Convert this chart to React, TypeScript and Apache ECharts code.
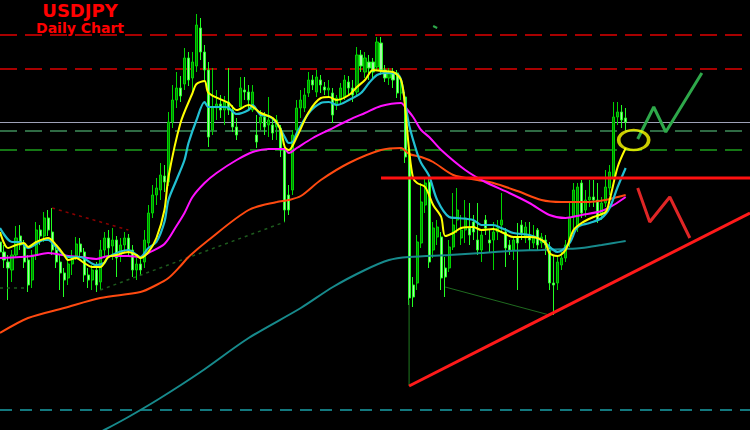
import React, { useEffect, useRef } from 'react';
import * as echarts from 'echarts';

// Daily bars (index = trading day) plus blank future slots for the projection
const categories: string[] = Array.from({ length: 188 }, (_, i) => `D${i + 1}`);

// [open, close, low, high]
const candles: number[][] = [
  [106.58, 106.48, 106.38, 106.68], [106.48, 106.40, 106.32, 106.55], [106.38, 106.32, 106.00, 106.45], [106.30, 106.45, 106.18, 106.50],
  [106.45, 106.62, 106.42, 106.74], [106.64, 106.55, 106.50, 106.75], [106.55, 106.38, 106.32, 106.60], [106.40, 106.15, 106.08, 106.45],
  [106.20, 106.45, 106.12, 106.50], [106.45, 106.70, 106.40, 106.78], [106.70, 106.64, 106.55, 106.75], [106.64, 106.82, 106.58, 106.88],
  [106.82, 106.70, 106.64, 106.90], [106.68, 106.50, 106.45, 106.92], [106.50, 106.38, 106.32, 106.55], [106.38, 106.27, 106.10, 106.45],
  [106.27, 106.20, 106.03, 106.32], [106.22, 106.36, 106.15, 106.42], [106.36, 106.42, 106.25, 106.50], [106.44, 106.56, 106.40, 106.63],
  [106.56, 106.48, 106.42, 106.62], [106.48, 106.25, 106.18, 106.52], [106.25, 106.20, 106.12, 106.32], [106.20, 106.30, 106.10, 106.35],
  [106.30, 106.15, 106.08, 106.38], [106.18, 106.50, 106.10, 106.60], [106.50, 106.62, 106.42, 106.68], [106.62, 106.52, 106.45, 106.70],
  [106.54, 106.60, 106.40, 106.72], [106.60, 106.42, 106.23, 106.64], [106.44, 106.55, 106.38, 106.62], [106.55, 106.62, 106.48, 106.68],
  [106.62, 106.50, 106.44, 106.66], [106.50, 106.30, 106.23, 106.55], [106.30, 106.36, 106.20, 106.42], [106.36, 106.30, 106.25, 106.42],
  [106.38, 106.60, 106.32, 106.70], [106.57, 106.87, 106.52, 106.95], [106.87, 107.05, 106.82, 107.15], [107.05, 107.12, 106.95, 107.22],
  [107.10, 107.25, 107.00, 107.37], [107.24, 107.18, 107.08, 107.35], [107.18, 107.78, 107.14, 107.88], [107.78, 108.00, 107.72, 108.15],
  [108.00, 108.12, 107.92, 108.28], [108.12, 108.04, 107.98, 108.24], [108.16, 108.42, 108.10, 108.52], [108.42, 108.20, 108.14, 108.48],
  [108.22, 108.38, 108.08, 108.48], [108.34, 108.75, 108.28, 108.86], [108.72, 108.48, 108.40, 108.82], [108.48, 108.30, 108.20, 108.55],
  [108.30, 107.63, 107.53, 108.38], [107.70, 107.92, 107.65, 108.32], [107.92, 107.96, 107.80, 108.10], [107.96, 107.90, 107.82, 108.05],
  [107.90, 107.98, 107.75, 108.04], [107.98, 107.90, 107.85, 108.32], [107.90, 107.73, 107.68, 107.95], [107.73, 107.65, 107.60, 107.82],
  [107.93, 108.12, 107.90, 108.23], [108.10, 108.08, 108.00, 108.23], [108.08, 108.00, 107.90, 108.15], [107.90, 108.08, 107.88, 108.15],
  [107.65, 107.58, 107.52, 107.85], [107.77, 107.83, 107.70, 107.90], [107.83, 107.73, 107.65, 107.88], [107.75, 107.80, 107.63, 108.03],
  [107.75, 107.67, 107.60, 107.82], [107.73, 107.80, 107.60, 107.85], [107.72, 107.50, 107.43, 107.75], [107.50, 106.90, 106.78, 107.55],
  [107.05, 106.90, 106.85, 107.15], [107.10, 107.65, 107.05, 107.70], [107.70, 107.92, 107.65, 108.00], [107.92, 108.00, 107.82, 108.10],
  [107.92, 108.05, 107.88, 108.12], [108.07, 108.20, 108.03, 108.28], [108.20, 108.15, 108.10, 108.25], [108.08, 108.23, 108.03, 108.30],
  [108.20, 108.15, 108.07, 108.25], [108.13, 108.10, 108.05, 108.18], [108.10, 108.12, 108.02, 108.20], [108.07, 107.85, 107.77, 108.12],
  [107.95, 108.02, 107.90, 108.05], [108.00, 108.12, 107.95, 108.17], [108.03, 108.20, 108.00, 108.25], [108.18, 108.12, 108.05, 108.24],
  [108.12, 108.05, 107.98, 108.20], [108.08, 108.45, 108.03, 108.53], [108.45, 108.34, 108.28, 108.50], [108.28, 108.42, 108.22, 108.48],
  [108.38, 108.32, 108.20, 108.45], [108.38, 108.28, 108.22, 108.42], [108.33, 108.58, 108.30, 108.63], [108.57, 108.30, 108.25, 108.63],
  [108.30, 108.22, 108.18, 108.35], [108.22, 108.27, 108.15, 108.32], [108.27, 108.20, 108.12, 108.32], [108.27, 108.07, 108.02, 108.30],
  [108.07, 108.15, 108.00, 108.20], [108.03, 107.43, 107.37, 108.08], [107.43, 106.02, 105.95, 107.50], [106.15, 106.03, 105.93, 106.23],
  [106.17, 106.58, 106.10, 106.65], [106.57, 106.98, 106.52, 107.17], [106.95, 107.17, 106.87, 107.22], [107.18, 106.38, 106.32, 107.22],
  [106.50, 106.72, 106.42, 106.78], [106.63, 106.73, 106.55, 106.80], [106.63, 106.22, 106.10, 106.68], [106.32, 106.23, 106.03, 106.43],
  [106.32, 106.53, 106.28, 106.60], [106.53, 106.75, 106.50, 107.07], [106.80, 106.90, 106.67, 107.12], [106.62, 106.70, 106.55, 106.85],
  [106.70, 106.82, 106.57, 107.00], [106.72, 106.65, 106.55, 106.97], [106.78, 106.68, 106.60, 106.85], [106.60, 106.50, 106.45, 106.97],
  [106.50, 106.65, 106.38, 106.70], [106.80, 106.72, 106.65, 106.85], [106.60, 106.57, 106.47, 106.70], [106.60, 106.68, 106.30, 106.78],
  [106.68, 106.72, 106.60, 106.80], [106.75, 106.80, 106.68, 107.07], [106.68, 106.52, 106.33, 106.72], [106.55, 106.50, 106.45, 106.60],
  [106.50, 106.60, 106.40, 106.62], [106.63, 106.57, 106.10, 106.77], [106.75, 106.67, 106.60, 106.80], [106.62, 106.73, 106.57, 106.78],
  [106.65, 106.60, 106.50, 106.78], [106.57, 106.62, 106.52, 106.75], [106.70, 106.55, 106.50, 106.72], [106.57, 106.63, 106.52, 106.67],
  [106.60, 106.55, 106.45, 106.65], [106.53, 106.17, 106.10, 106.58], [106.17, 106.15, 105.85, 106.45], [106.17, 106.38, 106.10, 106.45],
  [106.35, 106.42, 106.30, 106.48], [106.42, 106.55, 106.38, 106.60], [106.58, 106.83, 106.53, 106.97], [106.83, 107.10, 106.63, 107.17],
  [106.72, 107.13, 106.68, 107.17], [107.17, 106.87, 106.82, 107.20], [106.90, 107.00, 106.83, 107.10], [107.00, 107.03, 106.93, 107.20],
  [107.03, 107.00, 106.93, 107.20], [107.00, 106.80, 106.77, 107.17], [106.85, 106.97, 106.80, 107.03], [106.97, 107.13, 106.93, 107.30],
  [107.12, 107.28, 107.05, 107.35], [107.23, 107.83, 107.20, 107.98], [107.83, 107.88, 107.75, 107.98], [107.88, 107.80, 107.72, 107.95],
  [107.82, 107.78, 107.70, 107.92],
];

// Moving averages, [bar index, value]
const maFast: number[][] = [
  [0, 106.68], [2, 106.52], [4, 106.55], [6, 106.57], [7, 106.53], [9, 106.58], [12, 106.62], [14, 106.55], [16, 106.45], [17, 106.40],
  [19, 106.42], [21, 106.37], [23, 106.33], [25, 106.33], [27, 106.43], [29, 106.45], [32, 106.48], [34, 106.45], [35, 106.42], [37, 106.48],
  [39, 106.62], [41, 106.90], [42, 107.23], [45, 107.77], [48, 108.07], [49, 108.16], [51, 108.19], [52, 108.07], [57, 107.97], [59, 107.90],
  [62, 107.95], [65, 107.87], [68, 107.82], [70, 107.70], [71, 107.53], [72, 107.50], [74, 107.63], [77, 107.88], [80, 108.02], [82, 108.03],
  [84, 108.00], [87, 108.05], [89, 108.13], [91, 108.20], [93, 108.30], [95, 108.29], [98, 108.28], [100, 108.20], [101, 107.93], [102, 107.50],
  [103, 107.22], [104, 107.17], [106, 107.13], [108, 106.95], [110, 106.83], [111, 106.64], [113, 106.67], [115, 106.72], [118, 106.73], [120, 106.70],
  [123, 106.71], [125, 106.68], [128, 106.63], [132, 106.63], [134, 106.62], [136, 106.57], [137, 106.47], [139, 106.44], [141, 106.50], [143, 106.70],
  [145, 106.77], [148, 106.83], [151, 106.88], [152, 107.00], [154, 107.33], [156, 107.52],
];
const maMid: number[][] = [
  [0, 106.72], [3, 106.58], [5, 106.58], [7, 106.52], [11, 106.60], [12, 106.60], [14, 106.53], [17, 106.43], [20, 106.43], [24, 106.35],
  [26, 106.37], [27, 106.43], [32, 106.50], [35, 106.43], [37, 106.52], [39, 106.58], [41, 106.78], [42, 107.00], [44, 107.20], [46, 107.40],
  [47, 107.57], [49, 107.80], [51, 107.98], [52, 107.93], [56, 107.93], [57, 107.92], [59, 107.86], [62, 107.90], [63, 107.95], [65, 107.85],
  [67, 107.84], [69, 107.77], [71, 107.63], [72, 107.57], [73, 107.58], [74, 107.67], [77, 107.87], [80, 107.97], [82, 107.98], [84, 107.95],
  [87, 108.00], [90, 108.07], [92, 108.17], [94, 108.25], [96, 108.27], [99, 108.26], [100, 108.20], [101, 107.98], [102, 107.75], [104, 107.47],
  [105, 107.37], [107, 107.24], [109, 107.00], [112, 106.83], [114, 106.82], [118, 106.80], [120, 106.75], [123, 106.75], [125, 106.72], [128, 106.67],
  [132, 106.65], [135, 106.60], [138, 106.50], [139, 106.48], [142, 106.57], [144, 106.73], [147, 106.77], [150, 106.82], [152, 106.92], [154, 107.13],
  [156, 107.32],
];
const ma50: number[][] = [
  [0, 106.42], [5, 106.43], [8, 106.44], [12, 106.47], [17, 106.44], [20, 106.43], [24, 106.41], [27, 106.44], [32, 106.44], [35, 106.43],
  [37, 106.47], [41, 106.56], [44, 106.74], [46, 106.87], [48, 107.03], [51, 107.17], [54, 107.27], [59, 107.40], [63, 107.48], [67, 107.51],
  [71, 107.51], [72, 107.47], [74, 107.52], [78, 107.62], [82, 107.70], [87, 107.80], [91, 107.87], [95, 107.94], [100, 107.97], [101, 107.93],
  [103, 107.83], [105, 107.70], [107, 107.63], [110, 107.50], [116, 107.30], [121, 107.18], [127, 107.07], [132, 106.97], [137, 106.85], [141, 106.82],
  [145, 106.85], [150, 106.89], [153, 106.95], [156, 107.03],
];
const ma100: number[][] = [
  [0, 105.67], [7, 105.82], [16, 105.92], [25, 106.02], [35, 106.08], [39, 106.15], [42, 106.22], [45, 106.34], [47, 106.43], [52, 106.60],
  [62, 106.90], [69, 106.98], [72, 107.00], [75, 107.04], [80, 107.20], [87, 107.37], [95, 107.50], [100, 107.52], [102, 107.46], [105, 107.43],
  [108, 107.38], [113, 107.25], [119, 107.20], [123, 107.17], [129, 107.09], [135, 107.00], [140, 106.98], [147, 106.98], [151, 107.00], [153, 107.02],
  [156, 107.05],
];
const ma200: number[][] = [
  [22, 104.62], [26, 104.70], [32, 104.83], [40, 105.02], [50, 105.28], [62, 105.62], [75, 105.92], [83, 106.13], [91, 106.30], [97, 106.40],
  [102, 106.43], [112, 106.45], [120, 106.47], [127, 106.49], [135, 106.50], [141, 106.51], [145, 106.52], [150, 106.55], [153, 106.57], [156, 106.59],
];

// Horizontal levels
const redLevels: number[] = [108.65, 108.31];
const greyLevel = 107.78;
const darkGreenLevel = 107.69;
const greenLevel = 107.50;
const tealLevel = 104.90;

// Drawn studies, [bar index, value]
const trendLine: number[][] = [[102, 105.14], [187, 106.87]];
const breakoutLine: number[][] = [[95, 107.22], [187, 107.22]];
const dropLine: number[][] = [[102, 106.00], [102, 105.14]];
const lowsLine: number[][] = [[111, 106.13], [137, 105.85]];
const redDotted: number[][] = [[13, 106.92], [32, 106.70]];
const greenDottedA: number[][] = [[0, 106.12], [7, 106.12]];
const greenDottedB: number[][] = [[25, 106.10], [71, 106.78]];
const bullPath: number[][] = [[159, 107.61], [163, 107.93], [166, 107.68], [175, 108.27]];
const bearPath: number[][] = [[159, 107.12], [162, 106.78], [167, 107.03], [172, 106.62]];
const targetPoint: number[][] = [[158, 107.60]];
const smallTick: number[][] = [[108, 108.74], [109, 108.72]];

const lineSeries = (data: number[][], color: string, width: number, extra: any = {}) => ({
  type: 'line',
  data,
  symbol: 'none',
  silent: true,
  lineStyle: { color, width, ...(extra.lineStyle || {}) },
  z: extra.z ?? 3,
  smooth: extra.smooth ?? false,
});

export default function App() {
  const ref = useRef<HTMLDivElement>(null);
  useEffect(() => {
    if (!ref.current) return;
    const chart = echarts.init(ref.current, undefined, { renderer: 'svg' });
    const dash = [17, 8];
    chart.setOption({
      animation: false,
      backgroundColor: '#000000',
      grid: { left: 0, right: 0, top: 0, bottom: 0, containLabel: false },
      xAxis: {
        type: 'category',
        data: categories,
        boundaryGap: false,
        show: false,
      },
      yAxis: {
        type: 'value',
        min: 104.7,
        max: 109.0,
        show: false,
        splitLine: { show: false },
      },
      graphic: [
        {
          type: 'text',
          x: 80,
          y: 10,
          style: { text: 'USDJPY', fill: '#ff0000', font: 'bold 18px "DejaVu Sans"', textAlign: 'center', textVerticalAlign: 'middle' },
        },
        {
          type: 'text',
          x: 80,
          y: 28,
          style: { text: 'Daily Chart', fill: '#ff0000', font: 'bold 14px "DejaVu Sans"', textAlign: 'center', textVerticalAlign: 'middle' },
        },
      ],
      series: [
        {
          type: 'candlestick',
          data: candles,
          barWidth: 2.6,
          silent: true,
          z: 2,
          itemStyle: {
            color: '#008a00',
            color0: '#a8f5a8',
            borderColor: '#00d400',
            borderColor0: '#22ff22',
            borderWidth: 1,
          },
          markLine: {
            silent: true,
            symbol: ['none', 'none'],
            label: { show: false },
            z: 1,
            data: [
              ...redLevels.map((v) => ({ yAxis: v, lineStyle: { color: '#a80000', width: 2, type: dash } })),
              { yAxis: greyLevel, lineStyle: { color: '#9ea2b8', width: 1, type: 'solid' } },
              { yAxis: darkGreenLevel, lineStyle: { color: '#2f6a44', width: 2, type: dash } },
              { yAxis: greenLevel, lineStyle: { color: '#1c9e1c', width: 1.5, type: dash } },
              { yAxis: tealLevel, lineStyle: { color: '#1aa0a8', width: 1.5, type: [12, 8] } },
            ],
          },
        },
        lineSeries(redDotted, '#8b0000', 1.5, { lineStyle: { type: [3, 4] } }),
        lineSeries(greenDottedA, '#1d5a1d', 1.5, { lineStyle: { type: [3, 4] } }),
        lineSeries(greenDottedB, '#1d5a1d', 1.5, { lineStyle: { type: [3, 4] } }),
        lineSeries(ma200, '#178a8c', 2, { smooth: 0.3 }),
        lineSeries(ma100, '#ff4a10', 2, { smooth: 0.3 }),
        lineSeries(ma50, '#ff10ff', 2, { smooth: 0.3 }),
        lineSeries(maMid, '#22c0d2', 2.2, { smooth: 0.3 }),
        lineSeries(maFast, '#ffff00', 2, { smooth: 0.3 }),
        lineSeries(dropLine, '#1f7a1f', 1, { z: 3 }),
        lineSeries(lowsLine, '#1f6a1f', 1, { z: 3 }),
        lineSeries(breakoutLine, '#ff1010', 3, { z: 5 }),
        lineSeries(trendLine, '#ff1a1a', 3, { z: 5 }),
        lineSeries(bullPath, '#2ea84a', 3, { z: 5 }),
        lineSeries(bearPath, '#e02626', 3, { z: 5 }),
        lineSeries(smallTick, '#2ea84a', 2, { z: 5 }),
        {
          type: 'scatter',
          data: targetPoint,
          symbol: 'circle',
          symbolSize: [30, 20],
          silent: true,
          z: 6,
          itemStyle: { color: 'rgba(0,0,0,0)', borderColor: '#ffff00', borderWidth: 3 },
        },
      ],
    });
    return () => chart.dispose();
  }, []);
  return (
    <div
      ref={ref}
      style={{ position: 'fixed', left: 0, top: 0, width: 750, height: 430, background: '#000' }}
    />
  );
}
